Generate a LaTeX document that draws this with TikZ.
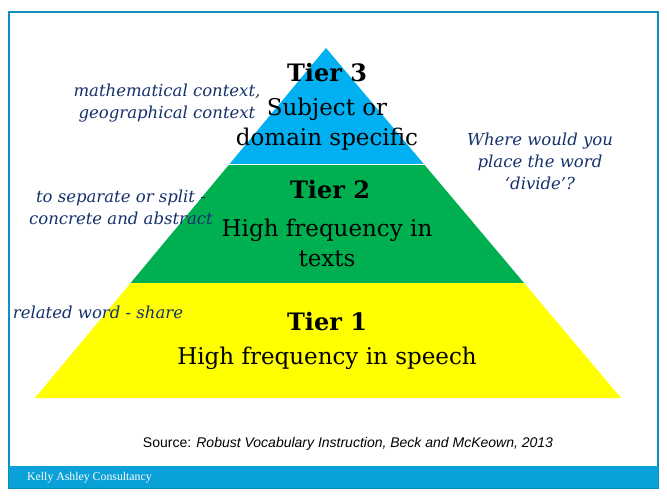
\documentclass[tikz,border=0pt]{standalone}
\usepackage{fontspec}
\setmainfont{DejaVu Serif}
\setsansfont{Liberation Sans}
\newfontfamily\barfont{Liberation Serif}
\usetikzlibrary{calc}

\definecolor{tierblue}{HTML}{00B0F0}
\definecolor{tiergreen}{HTML}{00B050}
\definecolor{tieryellow}{HTML}{FFFF00}
\definecolor{notenavy}{HTML}{14306B}
\definecolor{framebar}{HTML}{0AA1D8}
\definecolor{frameline}{HTML}{0E8FC0}

\begin{document}
\begin{tikzpicture}[
  x=1pt, y=-1pt,
  tiertitle/.style={inner sep=0pt, font=\fontsize{24}{28}\selectfont\bfseries},
  tiertext/.style={inner sep=0pt, align=center, font=\fontsize{23}{30}\selectfont},
  note/.style={inner sep=0pt, align=center, text=notenavy,
               font=\fontsize{16.5}{22}\selectfont\itshape},
  tierline/.style={white, line width=1pt}
]
\useasboundingbox (0,0) rectangle (667,500);

% Frame and footer bar
\draw[frameline, line width=1.2pt] (9,12) rectangle (658,488);
\fill[framebar] (9,466) rectangle (658,488);
\node[inner sep=0pt, anchor=west, text=white, font=\barfont\fontsize{11.8}{13}\selectfont] (firm) at (27,478) {Kelly Ashley Consultancy};

% Pyramid corners
\coordinate (apex) at (326,48);
\coordinate (bl) at (35,398);
\coordinate (br) at (621,398);
\coordinate (l3) at ($(apex)!0.334!(bl)$);
\coordinate (r3) at ($(apex)!0.334!(br)$);
\coordinate (l2) at ($(apex)!0.671!(bl)$);
\coordinate (r2) at ($(apex)!0.671!(br)$);

% Tiers
\fill[tieryellow] (l2) -- (r2) -- (br) -- (bl) -- cycle;
\fill[tiergreen] (l3) -- (r3) -- (r2) -- (l2) -- cycle;
\fill[tierblue] (apex) -- (r3) -- (l3) -- cycle;
\draw[tierline] (l3) -- (r3);

% Tier labels
\node[tiertitle] (t3) at (327,73) {Tier 3};
\node[tiertext] (t3body) at (327,124) {Subject or\\domain specific};
\node[tiertitle] (t2) at (330,190) {Tier 2};
\node[tiertext] (t2body) at (327,243) {High frequency in\\texts};
\node[tiertitle] (t1) at (327,322) {Tier 1};
\node[tiertext] (t1body) at (327,358) {High frequency in speech};

% Notes
\node[note] (n3) at (167,103) {mathematical context,\\geographical context};
\node[note] (n2) at (121,207) {to separate or split -\\concrete and abstract};
\node[note] (n1) at (98,312) {related word - share};
\node[note] (ask) at (540,161) {Where would you\\place the word\\‘divide’?};

% Source
\node[inner sep=0pt, font=\sffamily\fontsize{14}{16}\selectfont] (src) at (348,444)
  {Source: \textit{Robust Vocabulary Instruction, Beck and McKeown, 2013}};
\end{tikzpicture}
\end{document}
